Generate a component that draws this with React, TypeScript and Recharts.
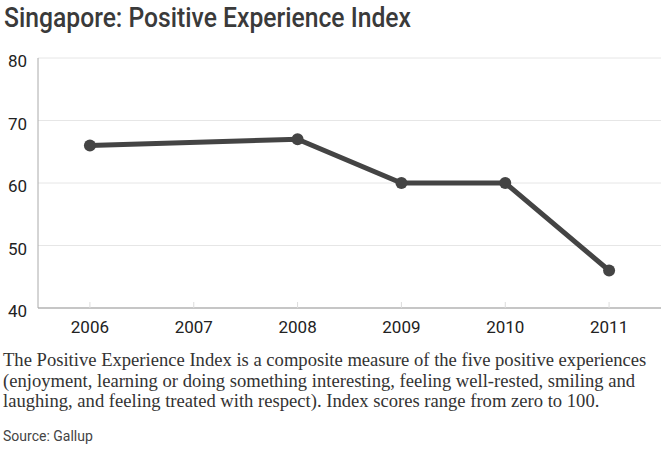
import { LineChart, Line, XAxis, YAxis, CartesianGrid } from 'recharts';

const years = [2006, 2008, 2009, 2010, 2011];
const scores = [66, 67, 60, 60, 46];
const xTicks = [2006, 2007, 2008, 2009, 2010, 2011];
const yTicks = [40, 50, 60, 70, 80];

const title = 'Singapore: Positive Experience Index';
const captionLines = [
  'The Positive Experience Index is a composite measure of the five positive experiences',
  '(enjoyment, learning or doing something interesting, feeling well-rested, smiling and',
  'laughing, and feeling treated with respect). Index scores range from zero to 100.',
];
const source = 'Source: Gallup';

const data = years.map((year, i) => ({ year, score: scores[i] }));

function YearTick(props: any) {
  const { x, y, payload } = props;
  return (
    <g>
      <line x1={x} x2={x} y1={y - 6} y2={y} stroke="#dcdcdc" strokeWidth={1} />
      <text
        x={x}
        y={y + 25}
        textAnchor="middle"
        fill="#222"
        fontSize={17}
        fontFamily="Roboto, sans-serif"
      >
        {payload.value}
      </text>
    </g>
  );
}

export default function App() {
  return (
    <div
      style={{
        position: 'absolute',
        left: 0,
        top: 0,
        width: 669,
        height: 452,
        background: '#fff',
        overflow: 'hidden',
      }}
    >
      <svg width={669} height={40} style={{ position: 'absolute', left: 0, top: 0 }}>
        <text
          x={4}
          y={27}
          fontSize={27}
          fontWeight={500}
          fontFamily="Roboto, sans-serif"
          fill="#3a3a3a"
          textLength={407}
          lengthAdjust="spacingAndGlyphs"
        >
          {title}
        </text>
      </svg>

      <div style={{ position: 'absolute', left: 0, top: 0 }}>
        <LineChart
          width={669}
          height={345}
          data={data}
          margin={{ top: 58, right: 8, left: 0, bottom: 0 }}
        >
          <CartesianGrid horizontal vertical={false} stroke="#e6e6e6" />
          <XAxis
            dataKey="year"
            type="number"
            domain={[2005.5, 2011.5]}
            ticks={xTicks}
            height={37}
            tickSize={0}
            tickMargin={0}
            tick={<YearTick />}
            axisLine={{ stroke: '#999' }}
            tickLine={false}
          />
          <YAxis
            type="number"
            domain={[40, 80]}
            ticks={yTicks}
            width={38}
            tickSize={0}
            tickMargin={11}
            tick={{ fill: '#222', fontSize: 17, fontFamily: 'Roboto, sans-serif', dy: 3 }}
            axisLine={{ stroke: '#aaa' }}
            tickLine={false}
          />
          <Line
            type="linear"
            dataKey="score"
            stroke="#444"
            strokeWidth={5}
            dot={{ r: 6, fill: '#444', stroke: 'none' }}
            activeDot={false}
            isAnimationActive={false}
          />
        </LineChart>
      </div>

      <div
        style={{
          position: 'absolute',
          left: 3,
          top: 350,
          width: 666,
          fontFamily: '"Liberation Serif", serif',
          fontSize: 18.6,
          lineHeight: '20.5px',
          color: '#333',
          whiteSpace: 'nowrap',
        }}
      >
        {captionLines.map((line) => (
          <div key={line}>{line}</div>
        ))}
      </div>

      <div
        style={{
          position: 'absolute',
          left: 3,
          top: 428,
          fontFamily: 'Roboto, sans-serif',
          fontSize: 14,
          lineHeight: '16px',
          color: '#444',
        }}
      >
        {source}
      </div>
    </div>
  );
}
